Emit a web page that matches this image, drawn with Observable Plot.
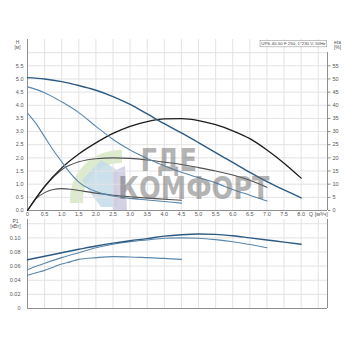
<!DOCTYPE html>
<html><head><meta charset="utf-8">
<script src="https://cdn.jsdelivr.net/npm/d3@7"></script>
<script src="https://cdn.jsdelivr.net/npm/@observablehq/plot@0.6"></script>
<style>
html,body{margin:0;padding:0;background:#fff;}
#wrap{position:relative;width:350px;height:350px;overflow:hidden;background:#fff;}
#wrap svg.chart{position:absolute;left:0;display:block;}
.wm{position:absolute;left:0;top:0;font-family:"DejaVu Sans",sans-serif;font-weight:bold;color:rgba(105,105,105,0.5);white-space:pre;transform-origin:0 0;pointer-events:none;}
</style></head><body>
<div id="wrap"></div>
<script>
// ---- data ----
// speed 3
const q3   = [0,0.5,1,1.5,2,2.5,3,3.5,4,4.5,5,5.5,6,6.5,7,7.5,8];
const h3   = [5.05,5.0,4.9,4.75,4.57,4.33,4.03,3.67,3.3,2.95,2.58,2.2,1.83,1.45,1.1,0.78,0.48];
const eta3 = [0,9.2,16.2,21.5,25.7,29.3,32,33.8,34.8,34.9,34.2,32.6,30.3,27.3,23,18,12.3];
const p3   = [0.069,0.074,0.079,0.0838,0.0885,0.0925,0.096,0.099,0.1025,0.1045,0.1055,0.105,0.103,0.1,0.097,0.094,0.091];
// speed 2
const q2   = [0,0.5,1,1.5,2,2.5,3,3.5,4,4.5,5,5.5,6,6.5,7];
const h2   = [4.7,4.48,4.13,3.72,3.2,2.7,2.3,1.98,1.7,1.45,1.25,1.05,0.8,0.58,0.36];
const eta2 = [0,9,15.5,18.5,19.7,20,19.8,19.2,18.4,17.5,16.3,15,13.5,11.5,8.8];
const p2   = [0.055,0.064,0.072,0.079,0.086,0.091,0.0945,0.097,0.0995,0.1,0.0995,0.0975,0.0945,0.0905,0.086];
// speed 1
const q1   = [0,0.25,0.5,0.75,1,1.25,1.5,2,2.5,3,3.5,4,4.5];
const h1   = [3.7,3.3,2.8,2.3,1.85,1.42,1.08,0.72,0.55,0.46,0.4,0.34,0.28];
const eta1 = [0,4.5,6.8,8,8.3,8.1,7.6,6.6,5.8,5.2,4.7,4.3,3.9];
const p1   = [0.047,0.0505,0.054,0.0585,0.063,0.066,0.0695,0.072,0.0735,0.073,0.072,0.071,0.0695];

// ticks / labels
const qTicks   = [0,0.5,1,1.5,2,2.5,3,3.5,4,4.5,5,5.5,6,6.5,7,7.5,8,8.5];
const qGrid    = [0.5,1,1.5,2,2.5,3,3.5,4,4.5,5,5.5,6,6.5,7,7.5,8,8.5];
const hTicks   = [0,0.5,1,1.5,2,2.5,3,3.5,4,4.5,5,5.5];
const hGrid    = [0.5,1,1.5,2,2.5,3,3.5,4,4.5,5,5.5,6];
const etaTicks = [0,5,10,15,20,25,30,35,40,45,50,55];
const pTicks   = [0,0.02,0.04,0.06,0.08,0.10];
const pGrid    = [0.02,0.04,0.06,0.08,0.10,0.12];
const qAxisLabel = "Q [м³/ч]";
const title = "UPS 40-50 F 250, 1*230 V, 50Hz";
const watermark = "ГДЕ\nКОМФОРТ";

// ---- build ----
const rows = (q, h, eta, p) => q.map((v, i) => ({q: v, h: h[i], eta: eta[i], p: p[i]}));
const s3 = rows(q3, h3, eta3, p3), s2 = rows(q2, h2, eta2, p2), s1 = rows(q1, h1, eta1, p1);

const W = 350, xDom = [0, 8.77];
const font = "'Liberation Sans', Arial, sans-serif";
const gridStroke = "#e3e3e3", axisStroke = "#8f8f8f";
const navy = "#2c5a82", steel = "#5a87ab", black = "#1c1c1c", dgray = "#505050";
const baseStyle = {fontSize: "5.5px", fontFamily: font, color: "#555", background: "transparent", overflow: "visible"};

const wrap = document.getElementById("wrap");

// decorative watermark logo (behind)
const logo = d3.select(wrap).append("svg")
  .attr("width", W).attr("height", 350)
  .style("position", "absolute").style("left", 0).style("top", 0);
logo.append("path").attr("d", "M70,203 A50,50 0 0 1 122,150 L122,163 A37,37 0 0 0 83,203 Z")
  .attr("fill", "#d5e6c0").attr("opacity", 0.8);
logo.append("path").attr("d", "M82,180 L101,160 L117,170 L117,207 L101,207 L91,194 Z")
  .attr("fill", "#c4dcea").attr("opacity", 0.85);
logo.append("path").attr("d", "M112,172 L125,166 L127,210 L113,210 Z")
  .attr("fill", "#cdc9e2").attr("opacity", 0.85);

const upper = Plot.plot({
  width: W, height: 222,
  marginLeft: 27, marginRight: 23, marginTop: 39, marginBottom: 12,
  style: baseStyle,
  x: {domain: xDom, axis: null},
  y: {domain: [0, 6.5], axis: null},
  marks: [
    Plot.gridX(qGrid, {stroke: gridStroke, strokeOpacity: 1}),
    Plot.gridY(hGrid, {stroke: gridStroke, strokeOpacity: 1}),
    Plot.ruleX([0], {stroke: axisStroke}),
    Plot.ruleY([0], {stroke: axisStroke}),
    Plot.ruleX([xDom[1]], {y1: 0, y2: 6, stroke: axisStroke}),
    Plot.axisY(hTicks, {anchor: "left", tickSize: 0, tickPadding: 4, tickFormat: d => d.toFixed(1), label: null}),
    Plot.axisY(etaTicks.map(e => e / 10), {anchor: "right", tickSize: 2.5, tickPadding: 2.5, tickFormat: d => String(Math.round(d * 10)), label: null, stroke: axisStroke}),
    Plot.axisX(qTicks, {anchor: "bottom", tickSize: 0, tickPadding: 2, tickFormat: d => d === 8.5 ? qAxisLabel : (d === 0 ? "0" : d.toFixed(1)), label: null}),
    // efficiency curves (right axis, % -> same pixel scale as H*10)
    Plot.line(s1, {x: "q", y: d => d.eta / 10, stroke: dgray, strokeWidth: 1.1, curve: "monotone-x"}),
    Plot.line(s2, {x: "q", y: d => d.eta / 10, stroke: dgray, strokeWidth: 1.1, curve: "monotone-x"}),
    Plot.line(s3, {x: "q", y: d => d.eta / 10, stroke: black, strokeWidth: 1.3, curve: "monotone-x"}),
    // head curves
    Plot.line(s1, {x: "q", y: "h", stroke: steel, strokeWidth: 1.1, curve: "monotone-x"}),
    Plot.line(s2, {x: "q", y: "h", stroke: steel, strokeWidth: 1.1, curve: "monotone-x"}),
    Plot.line(s3, {x: "q", y: "h", stroke: navy, strokeWidth: 1.4, curve: "monotone-x"}),
    // axis titles
    Plot.text(["H"], {text: d => d, frameAnchor: "top-left", textAnchor: "middle", lineAnchor: "middle", dx: -10, dy: 2.7, fontSize: 5}),
    Plot.text(["[м]"], {text: d => d, frameAnchor: "top-left", textAnchor: "middle", lineAnchor: "middle", dx: -10, dy: 7.7, fontSize: 5}),
    Plot.text(["eta"], {text: d => d, frameAnchor: "top-right", textAnchor: "middle", lineAnchor: "middle", dx: 10, dy: 2.7, fontSize: 5}),
    Plot.text(["[%]"], {text: d => d, frameAnchor: "top-right", textAnchor: "middle", lineAnchor: "middle", dx: 10, dy: 7.7, fontSize: 5}),
    Plot.text([title], {text: d => d, frameAnchor: "top-right", textAnchor: "end", lineAnchor: "middle", dx: -2, dy: 4.3, fontSize: 4.4, fill: "#444"})
  ]
});
upper.classList.add("chart");
upper.style.top = "0px";
wrap.appendChild(upper);

const lower = Plot.plot({
  width: W, height: 137,
  marginLeft: 27, marginRight: 23, marginTop: 6, marginBottom: 42,
  style: baseStyle,
  x: {domain: xDom, axis: null},
  y: {domain: [0, 0.126], axis: null},
  marks: [
    Plot.gridX(qGrid, {stroke: gridStroke, strokeOpacity: 1}),
    Plot.gridY(pGrid, {stroke: gridStroke, strokeOpacity: 1}),
    Plot.ruleX([0], {stroke: axisStroke}),
    Plot.ruleY([0], {stroke: axisStroke}),
    Plot.ruleX([xDom[1]], {stroke: axisStroke}),
    Plot.axisY(pTicks, {anchor: "left", tickSize: 0, tickPadding: 7, tickFormat: d => d === 0 ? "0" : d.toFixed(2), label: null}),
    Plot.line(s1, {x: "q", y: "p", stroke: steel, strokeWidth: 1.1, curve: "monotone-x"}),
    Plot.line(s2, {x: "q", y: "p", stroke: steel, strokeWidth: 1.1, curve: "monotone-x"}),
    Plot.line(s3, {x: "q", y: "p", stroke: navy, strokeWidth: 1.4, curve: "monotone-x"}),
    Plot.text(["P1"], {text: d => d, frameAnchor: "top-left", textAnchor: "middle", lineAnchor: "middle", dx: -12, dy: 1.8, fontSize: 5}),
    Plot.text(["[кВт]"], {text: d => d, frameAnchor: "top-left", textAnchor: "middle", lineAnchor: "middle", dx: -12, dy: 7, fontSize: 5})
  ]
});
lower.classList.add("chart");
lower.style.top = "213px";
wrap.appendChild(lower);

// box around the title (same transform as the text)
d3.select(upper).selectAll("text").filter(function() { return this.textContent === title; }).each(function() {
  const b = this.getBBox();
  const tr = this.getAttribute("transform");
  const r = document.createElementNS("http://www.w3.org/2000/svg", "rect");
  r.setAttribute("x", b.x - 1.2); r.setAttribute("y", b.y - 0.6);
  r.setAttribute("width", b.width + 2.4); r.setAttribute("height", b.height + 1.2);
  r.setAttribute("fill", "#fff"); r.setAttribute("stroke", "#9a9a9a"); r.setAttribute("stroke-width", 0.6);
  if (tr) r.setAttribute("transform", tr);
  this.parentNode.insertBefore(r, this);
});

// watermark text (one two-line block, on top, translucent)
const wm = document.createElement("div");
wm.className = "wm"; wm.textContent = watermark;
wm.style.fontSize = "32px";
wm.style.lineHeight = "28px";
wm.style.textIndent = "28px";
wm.style.transform = "translate(118px,146px) scaleX(0.8)";
wrap.appendChild(wm);
</script>
</body></html>
